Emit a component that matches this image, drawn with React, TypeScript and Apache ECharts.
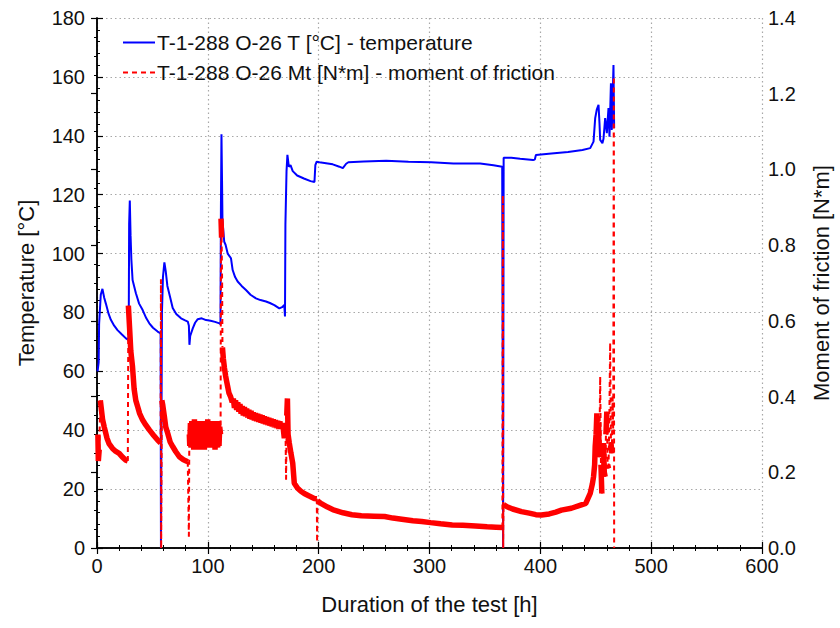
import React, { useEffect, useRef } from "react";
import * as echarts from "echarts";

// ---- data ----
const xTicks = [0, 100, 200, 300, 400, 500, 600];
const tempTicks = [0, 20, 40, 60, 80, 100, 120, 140, 160, 180];
const momentTicks = [0, 0.2, 0.4, 0.6, 0.8, 1.0, 1.2, 1.4];

const tempName = "T-1-288 O-26 T [°C] - temperature";
const momentName = "T-1-288 O-26 Mt [N*m] - moment of friction";

// [hours, °C]
const temperature: [number, number][] = [
  [0.5, 60], [1.5, 63], [1.9, 76], [3.4, 86], [4.9, 88], [6.5, 85], [8, 83], [10.5, 79.5], [12.5, 77.5],
  [15.5, 75.5], [18.5, 74], [22.5, 72.5], [26.1, 71.2], [28.2, 70.7], [28.6, 72], [29, 110], [29.6, 118],
  [30.3, 106], [31, 98], [32.1, 91], [35.1, 86.5], [38, 83], [41.2, 80.8], [44.5, 78], [47.2, 76.3],
  [50.5, 74.8], [54.7, 73.5], [57.4, 72.9], [57.7, 0], [58.3, 0], [58.6, 80], [59.5, 92], [60.8, 97],
  [62, 94], [63.5, 89], [66.1, 85], [68.3, 81.5], [71.5, 79.5], [75.8, 78], [79.5, 77.3], [81.9, 76.9],
  [82.9, 75.5], [83.4, 69], [84.1, 72], [86.4, 74.6], [88.5, 76.5], [90.9, 77.7], [94.5, 78], [98.4, 77.4],
  [102.5, 77.2], [106.5, 76.8], [110.5, 76.3], [111.4, 76], [111.8, 115], [112.3, 140.5], [112.8, 125],
  [113.2, 111.4], [114.8, 104], [116, 103], [117.9, 100], [120.9, 98.4], [122.4, 94.4], [124.6, 92],
  [126.9, 90.5], [130.5, 89], [134.4, 87.6], [138.5, 86], [143.4, 84.8], [147.5, 84.2], [152.5, 83.7],
  [156, 83.2], [160, 82.5], [164.5, 81.4], [167, 81.8], [169, 82.5], [169.6, 78.6], [170, 110], [171, 128],
  [171.8, 133.5], [173.1, 129.5], [174.6, 130], [176.6, 128], [180.6, 126.5], [186.7, 125.5], [192.7, 124.6],
  [196.2, 124.3], [197, 130], [198.2, 131.2], [200.7, 131], [206.7, 130.7], [212.7, 130.3], [218.7, 129.5],
  [221.8, 129], [224.8, 130.5], [226.8, 131], [240.8, 131.3], [260.9, 131.5], [281, 131.2], [301.5, 131],
  [321.6, 130.6], [345.7, 130.6], [357.7, 130], [365.6, 129.5], [366.2, 129.5], [366.4, 0], [366.7, 0],
  [366.9, 132.5], [373.8, 132.5], [381.8, 132.2], [393.5, 131.8], [395, 131.9], [396, 133.5], [410, 134],
  [425, 134.5], [438, 135.2], [445, 135.8], [448, 138], [449.5, 146], [451, 149], [452.5, 150.5],
  [453.4, 144], [454, 138.6], [456, 137.5], [457, 139], [458.5, 146], [460, 140.9], [461.5, 149.4],
  [462.4, 139.7], [463.7, 157.8], [464.5, 142], [466, 164], [466.6, 142.6],
];

// [hours, N*m]
const moment: [number, number][] = [
  [0.8, 0.3], [1.2, 0.23], [2, 0.26], [3, 0.39], [3.8, 0.37], [5, 0.34], [6.5, 0.32], [9, 0.29], [11, 0.275],
  [14, 0.263], [17, 0.255], [20, 0.25], [23, 0.24], [26, 0.232], [27.8, 0.23], [28.3, 0.64], [29.7, 0.565],
  [30.5, 0.52], [32, 0.48], [33.5, 0.42], [35, 0.39], [36.7, 0.373], [38.5, 0.355], [41.2, 0.338], [44, 0.325],
  [47.2, 0.312], [51, 0.298], [54.7, 0.285], [57.4, 0.277], [57.7, 0.71], [57.9, 0.0], [58.5, 0.39],
  [59.3, 0.378], [60.8, 0.347], [62, 0.32], [63.8, 0.303], [66, 0.28], [68.3, 0.268], [71, 0.255],
  [74.3, 0.241], [78, 0.233], [81.9, 0.228], [82.9, 0.03], [83.3, 0.3],
  [83.7, 0.27], [84.3, 0.33], [84.9, 0.265], [85.5, 0.335], [86.1, 0.27], [86.7, 0.33], [87.3, 0.26],
  [87.9, 0.34], [88.5, 0.27], [89.1, 0.325], [89.7, 0.265], [90.3, 0.335], [90.9, 0.27], [91.5, 0.33],
  [92.1, 0.26], [92.7, 0.335], [93.3, 0.27], [93.9, 0.33], [94.5, 0.265], [95.1, 0.33], [95.7, 0.27],
  [96.3, 0.335], [96.9, 0.26], [97.5, 0.33], [98.1, 0.27], [98.7, 0.33], [99.3, 0.265], [99.9, 0.34],
  [100.5, 0.27], [101.1, 0.33], [101.7, 0.265], [102.3, 0.335], [102.9, 0.27], [103.5, 0.325],
  [104.1, 0.265], [104.7, 0.33], [105.3, 0.27], [105.9, 0.335], [106.5, 0.26], [107.1, 0.33], [107.7, 0.27],
  [108.3, 0.33], [108.9, 0.265], [109.5, 0.335], [110.1, 0.27], [110.7, 0.32], [111.5, 0.3], [111.9, 0.87],
  [112.4, 0.82], [112.9, 0.7], [113.2, 0.53], [114, 0.5], [115, 0.475], [116, 0.455], [117, 0.44],
  [118, 0.425], [119, 0.41], [120.5, 0.4], [122, 0.385], [123, 0.395], [124, 0.37], [125, 0.39],
  [126, 0.365], [127, 0.385], [128, 0.36], [129, 0.38], [130, 0.355], [131, 0.375], [132, 0.35],
  [133, 0.372], [134, 0.348], [135, 0.368], [136, 0.345], [137, 0.365], [138, 0.342], [139, 0.362],
  [140, 0.34], [141, 0.358], [142, 0.337], [143, 0.356], [144, 0.335], [145, 0.354], [146, 0.333],
  [147, 0.352], [148, 0.331], [149, 0.35], [150, 0.329], [151, 0.348], [152, 0.327], [153, 0.346],
  [154, 0.325], [155, 0.344], [156, 0.323], [157, 0.342], [158, 0.321], [159, 0.34], [160, 0.319],
  [161, 0.338], [162, 0.317], [163, 0.336], [164, 0.315], [165, 0.334], [166, 0.316], [167.5, 0.33],
  [169, 0.29], [170, 0.33], [170.6, 0.18], [171.2, 0.35], [171.8, 0.395], [172.4, 0.3], [173.5, 0.277],
  [175, 0.25], [176.6, 0.224], [178, 0.171], [181, 0.158], [184, 0.15], [187, 0.144], [191, 0.138],
  [196, 0.131], [198.3, 0.13], [198.6, 0.02], [198.9, 0.125], [202, 0.118], [208, 0.108], [214, 0.1],
  [222, 0.093], [230, 0.088], [238.5, 0.085], [250, 0.084], [259.5, 0.083], [267, 0.079], [275, 0.076],
  [285, 0.072], [293, 0.07], [301, 0.067], [310, 0.064], [320.5, 0.061], [330, 0.06], [341.5, 0.058],
  [352, 0.056], [360, 0.055], [365.8, 0.054], [366.2, 0.93], [366.5, 0.0], [366.8, 0.115], [370, 0.109],
  [375, 0.103], [383, 0.096], [390, 0.092], [396, 0.088], [401, 0.087], [408, 0.09], [414, 0.095],
  [419, 0.1], [428, 0.105], [437, 0.114], [441, 0.118], [445, 0.144], [447, 0.17], [448, 0.188],
  [449, 0.22], [449.5, 0.268], [450.3, 0.3], [451, 0.356], [451.8, 0.26], [452.5, 0.33], [453.2, 0.24],
  [454, 0.452], [454.7, 0.22], [455.5, 0.144], [456.2, 0.25], [457, 0.277], [457.7, 0.2], [458.5, 0.188],
  [459.2, 0.3], [460, 0.36], [460.7, 0.22], [461.5, 0.21], [462.2, 0.33], [463, 0.54], [463.7, 0.28],
  [464.5, 0.25], [465.2, 0.4], [465.8, 0.3], [466.3, 1.24], [466.6, 0.0],
];

const JUMP = 0.1;

function splitMoment(data: [number, number][]) {
  const main: any[] = [];
  const jumps: any[] = [];
  data.forEach((p, i) => {
    if (i > 0 && Math.abs(p[1] - data[i - 1][1]) > JUMP) {
      main.push([p[0], "-"]);
      jumps.push(data[i - 1], p, [p[0], "-"]);
    }
    main.push(p);
  });
  return { main, jumps };
}

const FONT = "'Liberation Sans', Arial, sans-serif";

export default function App() {
  const ref = useRef<HTMLDivElement>(null);
  useEffect(() => {
    if (!ref.current) return;
    const chart = echarts.init(ref.current, undefined, { renderer: "svg" });
    const { main, jumps } = splitMoment(moment);
    const axisLine = { show: true, lineStyle: { color: "#000", width: 1.5 } };
    const tick = { show: true, inside: true, length: 6, lineStyle: { color: "#000", width: 1.2 } };
    const minor = { show: true, splitNumber: 5, length: 3, lineStyle: { color: "#000", width: 1 } };
    const label = { color: "#111", fontSize: 20, fontFamily: FONT };
    const nameStyle = { color: "#111", fontSize: 22, fontFamily: FONT };
    const grid = { show: true, lineStyle: { color: "#a8a8a8", type: [1.5, 3], width: 1.2 } };
    chart.setOption({
      animation: false,
      backgroundColor: "#fff",
      grid: { left: 97, right: 77, top: 18, bottom: 80, containLabel: false },
      legend: {
        orient: "vertical",
        left: 117,
        top: 27,
        itemWidth: 32,
        itemHeight: 14,
        itemGap: 9,
        textStyle: { color: "#111", fontSize: 21, fontFamily: FONT, padding: [0, 0, 0, -3] },
        data: [
          { name: tempName, itemStyle: { opacity: 0 }, lineStyle: { width: 2, color: "#0000ff" } },
          { name: momentName, itemStyle: { opacity: 0 }, lineStyle: { width: 2, type: [5, 4], color: "#ff0000" } },
        ],
      },
      xAxis: [
        {
          type: "value",
          min: xTicks[0],
          max: xTicks[xTicks.length - 1],
          interval: 100,
          position: "bottom",
          axisLine,
          axisTick: tick,
          minorTick: minor,
          splitLine: grid,
          axisLabel: { ...label, margin: 8 },
          name: "Duration of the test [h]",
          nameLocation: "middle",
          nameGap: 45,
          nameTextStyle: nameStyle,
        },
        {
          type: "value",
          min: xTicks[0],
          max: xTicks[xTicks.length - 1],
          interval: 100,
          position: "top",
          axisLine,
          axisTick: tick,
          minorTick: minor,
          splitLine: { show: false },
          axisLabel: { show: false },
        },
      ],
      yAxis: [
        {
          type: "value",
          min: tempTicks[0],
          max: tempTicks[tempTicks.length - 1],
          interval: 20,
          position: "left",
          axisLine,
          axisTick: tick,
          minorTick: minor,
          splitLine: grid,
          axisLabel: { ...label, margin: 12 },
          name: "Temperature [°C]",
          nameLocation: "middle",
          nameRotate: 90,
          nameGap: 60,
          nameTextStyle: nameStyle,
        },
        {
          type: "value",
          min: momentTicks[0],
          max: momentTicks[momentTicks.length - 1],
          interval: 0.2,
          position: "right",
          axisLine,
          axisTick: tick,
          minorTick: { ...minor, splitNumber: 4 },
          splitLine: { show: false },
          axisLabel: { ...label, margin: 6, formatter: (v: number) => v.toFixed(1) },
          name: "Moment of friction [N*m]",
          nameLocation: "middle",
          nameRotate: 90,
          nameGap: 48,
          nameTextStyle: nameStyle,
        },
      ],
      series: [
        {
          name: tempName,
          type: "line",
          xAxisIndex: 0,
          yAxisIndex: 0,
          data: temperature,
          symbol: "none",
          lineStyle: { color: "#0000ff", width: 2 },
          itemStyle: { color: "#0000ff" },
          z: 2,
        },
        {
          name: momentName,
          type: "line",
          xAxisIndex: 0,
          yAxisIndex: 1,
          data: main,
          symbol: "none",
          connectNulls: false,
          lineStyle: { color: "#ff0000", width: 5.5 },
          itemStyle: { color: "#ff0000" },
          z: 3,
        },
        {
          name: "moment-jumps",
          type: "line",
          xAxisIndex: 0,
          yAxisIndex: 1,
          data: jumps,
          symbol: "none",
          connectNulls: false,
          lineStyle: { color: "#ff0000", width: 2, type: [5, 4] },
          itemStyle: { color: "#ff0000" },
          z: 4,
        },
      ],
    });
    return () => chart.dispose();
  }, []);
  return (
    <div
      ref={ref}
      style={{ position: "fixed", left: 0, top: 0, width: 840, height: 628 }}
    />
  );
}
